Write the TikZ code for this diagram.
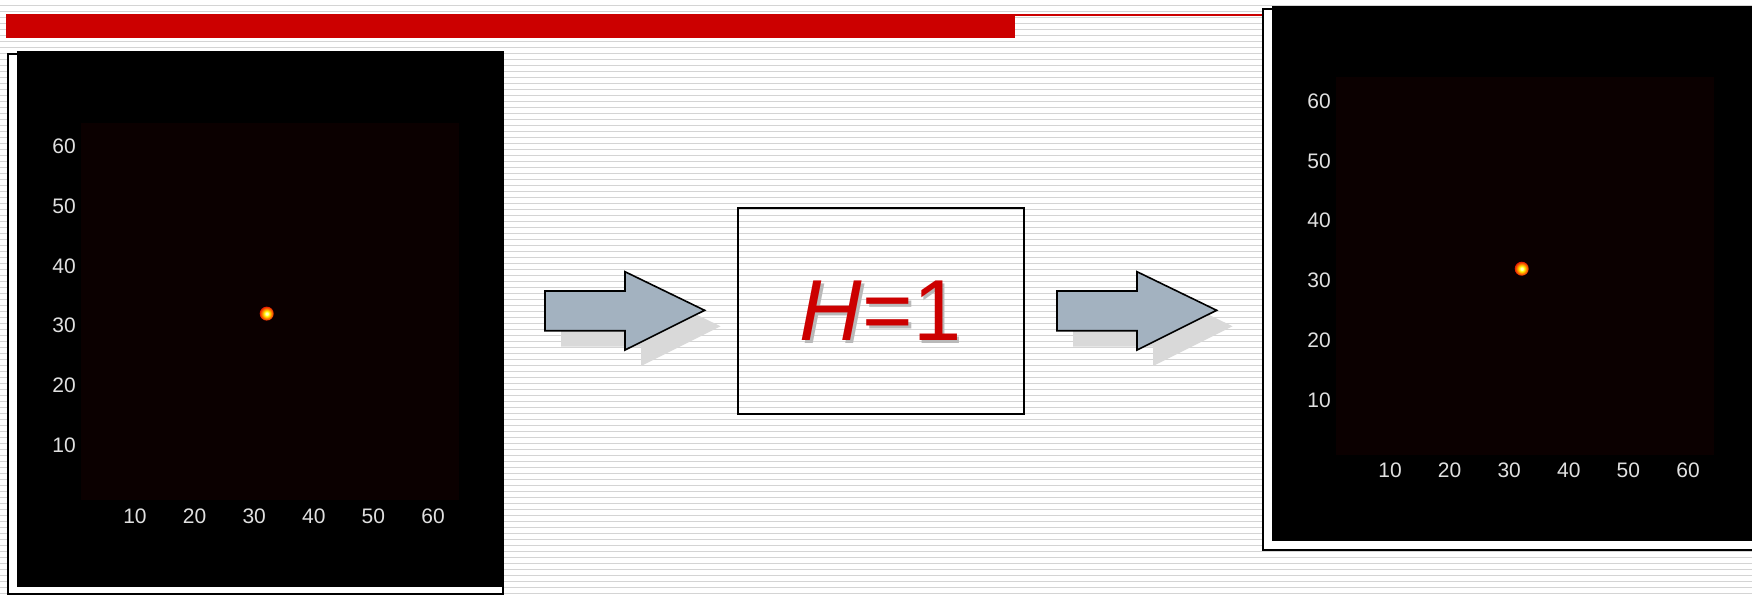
\documentclass[tikz,border=0pt]{standalone}
\usepackage{fontspec}
\setmainfont{Liberation Sans}
\definecolor{redbar}{RGB}{204,0,0}
\definecolor{stripe}{RGB}{212,212,212}
\definecolor{plotbg}{RGB}{11,0,0}
\definecolor{arrowfill}{RGB}{163,178,192}
\definecolor{arrowshadow}{RGB}{217,217,217}
\definecolor{ticklab}{RGB}{224,224,224}
\definecolor{spotcore}{RGB}{255,255,190}
\definecolor{spotorange}{RGB}{255,140,0}
\definecolor{spotred}{RGB}{225,15,0}
\definecolor{spotdark}{RGB}{110,0,0}
\pgfdeclareradialshading{spotshade}{\pgfpoint{0bp}{0bp}}{color(0bp)=(spotcore); color(4bp)=(spotcore); color(9bp)=(yellow); color(16bp)=(spotorange); color(26bp)=(spotred); color(37bp)=(spotdark); color(50bp)=(plotbg)}
\tikzset{
  frame/.style={draw=black, line width=2.2pt, fill=white},
  panel/.style={fill=black},
  plotarea/.style={fill=plotbg},
  ticklabel/.style={text=ticklab, inner sep=0pt, font=\fontsize{21}{24}\selectfont},
  blockarrow/.style={draw=black, line width=1.6pt, fill=arrowfill, line join=miter},
  arrowshade/.style={fill=arrowshadow},
  hbox/.style={draw=black, line width=2pt, minimum width=286.1pt, minimum height=206.3pt, inner sep=0pt},
  hfont/.style={font=\fontsize{86.6}{100}\selectfont},
}
\begin{document}
\begin{tikzpicture}[x=1pt,y=-1pt]
\useasboundingbox (0,0) rectangle (1752,595);
\clip (0,0) rectangle (1752,595);
\fill[white] (0,0) rectangle (1752,595);
\foreach \k in {0,...,99} \draw[stripe, line width=1.3pt] (0,{-0.3+6*\k}) -- (1752,{-0.3+6*\k});
% title bar
\fill[redbar] (6,14) rectangle (1015,38.3);
\coordinate (barend) at (1015,15);
\coordinate (lineend) at (1263,15);
\draw[redbar, line width=1.6pt] (barend) -- (lineend);
% left image
\draw[frame] (8.3,54.2) rectangle (503.2,594);
\fill[panel] (16.7,51) rectangle (504.3,586.7);
\fill[plotarea] (81,122.5) rectangle (459.3,500.3);
\foreach \v [count=\i from 0] in {60,50,40,30,20,10}
  \node[ticklabel, anchor=east] (ly\v) at (76,{146+59.9*\i}) {\v};
\foreach \v [count=\i from 0] in {10,20,30,40,50,60}
  \node[ticklabel] (lx\v) at ({135+59.6*\i},516) {\v};
\shade[shading=spotshade] (266.7,313.6) circle[radius=7pt];
% right image
\draw[frame] (1263,9.2) rectangle (1790,550);
\fill[panel] (1272,6) rectangle (1790,541);
\fill[plotarea] (1336,76.5) rectangle (1714,454.5);
\foreach \v [count=\i from 0] in {60,50,40,30,20,10}
  \node[ticklabel, anchor=east] (ry\v) at (1331,{101+59.8*\i}) {\v};
\foreach \v [count=\i from 0] in {10,20,30,40,50,60}
  \node[ticklabel] (rx\v) at ({1390+59.6*\i},470.6) {\v};
\shade[shading=spotshade] (1521.7,268.7) circle[radius=7pt];
% block arrows
\foreach \dx in {0,512} {
  \begin{scope}[shift={(\dx+16,16)}]
    \fill[arrowshade] (545,291) -- (625,291) -- (625,271.7) -- (704.6,310.3) -- (625,350) -- (625,330.7) -- (545,330.7) -- cycle;
  \end{scope}
  \begin{scope}[shift={(\dx,0)}]
    \draw[blockarrow] (545,291) -- (625,291) -- (625,271.7) -- (704.6,310.3) -- (625,350) -- (625,330.7) -- (545,330.7) -- cycle;
  \end{scope}
}
% system box
\node[hfont, text=gray!55, inner sep=0pt] (hshadow) at (883.1,313.3) {\textit{H}=1};
\node[hbox, hfont, text=redbar] (hsys) at (880.6,310.8) {\textit{H}=1};
\end{tikzpicture}
\end{document}
